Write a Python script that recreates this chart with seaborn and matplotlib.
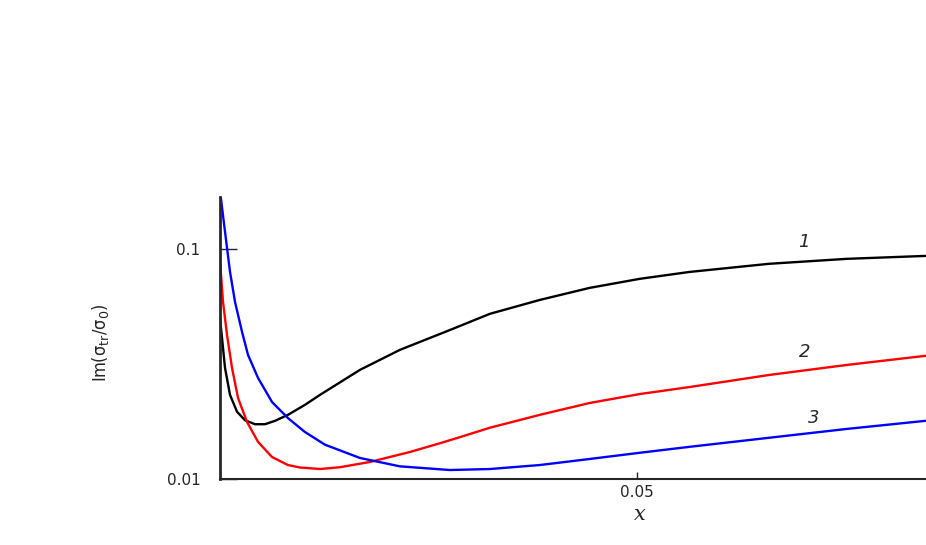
import numpy as np
import pandas as pd
import matplotlib
matplotlib.use("Agg")
import matplotlib.pyplot as plt
import seaborn as sns

# curve 1 (black)
x_black = [0.0, 0.0006, 0.0012, 0.00204, 0.0030, 0.0042, 0.0054, 0.0066, 0.00815,
           0.01019, 0.01199, 0.01679, 0.02158, 0.02758, 0.03237, 0.03837, 0.04436,
           0.05036, 0.05635, 0.06583, 0.07518, 0.08465]
y_black = [0.050, 0.0304, 0.0232, 0.0196, 0.0180, 0.0173, 0.0173, 0.0179, 0.0190,
           0.0210, 0.0232, 0.0298, 0.0364, 0.0444, 0.0522, 0.0600, 0.0677,
           0.0741, 0.0794, 0.0861, 0.0905, 0.0932]

# curve 2 (red)
x_red = [0.0, 0.00036, 0.00084, 0.00144, 0.00216, 0.00324, 0.00456, 0.00624, 0.00815,
         0.00959, 0.01199, 0.01439, 0.01799, 0.02278, 0.02638, 0.02878, 0.03237,
         0.03837, 0.04436, 0.05036, 0.05635, 0.06583, 0.07518, 0.08465]
y_red = [0.0878, 0.0588, 0.0423, 0.0304, 0.0225, 0.0177, 0.0145, 0.01246, 0.01150,
         0.01122, 0.01105, 0.01125, 0.01186, 0.0131, 0.0143, 0.0152, 0.0167,
         0.0190, 0.0214, 0.0234, 0.0251, 0.0283, 0.0313, 0.0343]

# curve 3 (blue)
x_blue = [0.0001, 0.0006, 0.0012, 0.0018, 0.00264, 0.00336, 0.00456, 0.00624, 0.00815,
          0.01019, 0.01259, 0.01679, 0.02158, 0.02758, 0.03237, 0.03837, 0.04436,
          0.05036, 0.05635, 0.06583, 0.07518, 0.08465]
y_blue = [0.1666, 0.1186, 0.0794, 0.0588, 0.0436, 0.0346, 0.0275, 0.0216, 0.0184,
          0.0160, 0.0141, 0.01234, 0.01135, 0.01094, 0.01105, 0.01150, 0.01222,
          0.0130, 0.0138, 0.0151, 0.0165, 0.0179]

curve_labels = ["1", "2", "3"]
label_x = [0.0701, 0.0701, 0.0712]
label_y = [0.107, 0.0356, 0.0184]

x_ticks = [0.05]
x_tick_labels = ["0.05"]
y_ticks = [0.01, 0.1]
y_tick_labels = ["0.01", "0.1"]

sns.set_theme(style="ticks")
plt.rcParams["font.family"] = ["DejaVu Sans"]
plt.rcParams["mathtext.fontset"] = "dejavusans"

fig = plt.figure(figsize=(9.26, 5.45), dpi=100)
ax = fig.add_axes([0.2376, 0.1211, 0.7624, 0.5174])

df_black = pd.DataFrame({"x": x_black, "y": y_black})
df_red = pd.DataFrame({"x": x_red, "y": y_red})
df_blue = pd.DataFrame({"x": x_blue, "y": y_blue})

sns.lineplot(data=df_black, x="x", y="y", color="black", linewidth=1.7, ax=ax)
sns.lineplot(data=df_red, x="x", y="y", color="#ff0000", linewidth=1.7, ax=ax)
sns.lineplot(data=df_blue, x="x", y="y", color="#0000ff", linewidth=1.7, ax=ax)

ax.set_yscale("log")
ax.set_xlim(0, 0.0847)
ax.set_ylim(0.01, 0.168)
ax.minorticks_off()

ax.set_xticks(x_ticks)
ax.set_xticklabels(x_tick_labels)
ax.set_yticks(y_ticks)
ax.set_yticklabels(y_tick_labels)
ax.tick_params(axis="y", direction="in", length=12, width=1, labelsize=11, pad=14)
ax.tick_params(axis="x", direction="in", length=5, width=1, labelsize=11, pad=4)

sns.despine(ax=ax)
ax.spines["left"].set_linewidth(2)
ax.spines["bottom"].set_linewidth(1.5)

for lab, lx, ly in zip(curve_labels, label_x, label_y):
    ax.text(lx, ly, lab, fontsize=13, style="italic", ha="center", va="center")

ax.set_xlabel("x", fontsize=15, style="italic", family="DejaVu Serif", labelpad=4, x=0.595)
ax.set_ylabel(r"Im(σ$_\mathrm{tr}$/σ$_0$)", fontsize=13, fontstretch="condensed")
ax.yaxis.set_label_coords(-0.155, 0.485)

fig.savefig("out.png", dpi=100, facecolor="white")
